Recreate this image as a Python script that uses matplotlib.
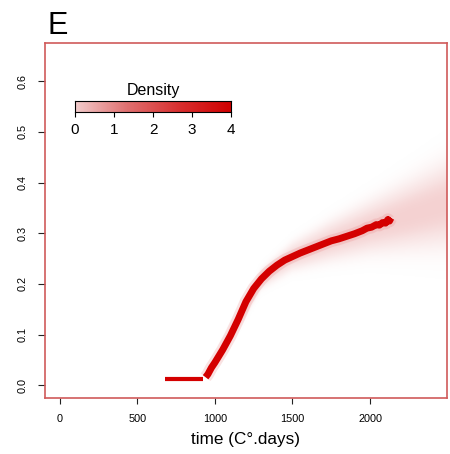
import numpy as np
import matplotlib
matplotlib.use("Agg")
import matplotlib.pyplot as plt
from matplotlib.colors import LinearSegmentedColormap

plt.rcParams['font.family'] = ['Liberation Sans', 'DejaVu Sans']

# ---- data ----
flat_x = [677, 700, 750, 800, 850, 900, 923]
flat_y = [0.0135, 0.0135, 0.0135, 0.0135, 0.0135, 0.0135, 0.0135]

curve_x = [940, 955, 978, 1000, 1050, 1100, 1150, 1200, 1250, 1300, 1350, 1400,
           1450, 1500, 1550, 1600, 1650, 1700, 1750, 1800, 1850, 1900, 1950,
           1980, 2010, 2040, 2060, 2080, 2100, 2115, 2125, 2135]
curve_y = [0.016, 0.022, 0.035, 0.045, 0.070, 0.098, 0.130, 0.165, 0.191, 0.210,
           0.225, 0.237, 0.247, 0.254, 0.261, 0.267, 0.273, 0.279, 0.285, 0.289,
           0.294, 0.299, 0.305, 0.310, 0.312, 0.317, 0.316, 0.321, 0.320, 0.327,
           0.324, 0.330]

# predictive density fan (centre, half-width, intensity)
fan_x = [1000, 1300, 1500, 1750, 2000, 2250, 2500]
fan_center = [0.045, 0.210, 0.254, 0.285, 0.312, 0.335, 0.358]
fan_halfwidth = [0.012, 0.020, 0.028, 0.040, 0.052, 0.068, 0.085]
fan_level = [0.35, 0.40, 0.42, 0.45, 0.47, 0.48, 0.48]

xticks = [0, 500, 1000, 1500, 2000]
yticks = [0.0, 0.1, 0.2, 0.3, 0.4, 0.5, 0.6]
cbar_ticks = [0, 1, 2, 3, 4]

xlim = (-95, 2495)
ylim = (-0.025, 0.675)

fig = plt.figure(figsize=(4.5, 4.54), dpi=100)
ax = fig.add_axes([0.1, 0.1233, 0.893, 0.7817])

# density field
gx = np.linspace(xlim[0], xlim[1], 700)
gy = np.linspace(ylim[0], ylim[1], 400)
cen = np.interp(gx, fan_x, fan_center)
hw = np.interp(gx, fan_x, fan_halfwidth)
lev = np.interp(gx, fan_x, fan_level)
lev[gx < fan_x[0]] = 0
z = np.abs((gy[:, None] - cen[None, :]) / hw[None, :])
field = lev[None, :] * np.exp(-1.2 * z ** 2.5)
field_cmap = LinearSegmentedColormap.from_list("fld", ["#ffffff", "#f8e2e2", "#f0bcbc", "#d40000"])
ax.imshow(field, extent=(xlim[0], xlim[1], ylim[0], ylim[1]), origin='lower',
          aspect='auto', cmap=field_cmap, vmin=0, vmax=1, interpolation='bilinear', zorder=1)

# halo + main curve
ax.plot(curve_x, curve_y, color='#e88080', lw=9, alpha=0.22, solid_capstyle='butt', zorder=2)
ax.plot(flat_x, flat_y, color='#d40000', lw=3.0, solid_capstyle='butt', zorder=3)
ax.plot(curve_x, curve_y, color='#d40000', lw=5.0, solid_capstyle='butt',
        solid_joinstyle='round', zorder=3)

ax.set_xlim(*xlim)
ax.set_ylim(*ylim)
ax.set_xticks(xticks)
ax.set_xticklabels([str(v) for v in xticks], fontsize=7.8)
ax.set_yticks(yticks)
ax.set_yticklabels([f"{v:.1f}" for v in yticks], fontsize=7.8, rotation=90, va='center')
ax.tick_params(axis='x', length=4.5, width=0.8, pad=7, color='#222222')
ax.tick_params(axis='y', length=4.8, width=0.8, pad=8, color='#222222')
for s in ax.spines.values():
    s.set_color('#d05a5a')
    s.set_linewidth(1.2)
ax.set_xlabel("time (C°.days)", fontsize=12.3, labelpad=6)

fig.text(47 / 450, 1 - 33.5 / 454, "E", fontsize=22, ha='left', va='baseline')

# colour bar legend
cb_cmap = LinearSegmentedColormap.from_list("cb", ["#f2cccc", "#e07070", "#d83030", "#d00000"])
cax = fig.add_axes([75 / 450, 1 - 112.3 / 454, 156 / 450, 11.3 / 454])
grad = np.linspace(0, 4, 256)[None, :]
cax.imshow(grad, extent=(0, 4, 0, 1), aspect='auto', cmap=cb_cmap, vmin=0, vmax=4)
cax.set_xlim(0, 4)
cax.set_yticks([])
cax.set_xticks(cbar_ticks)
cax.set_xticklabels([str(v) for v in cbar_ticks], fontsize=11)
cax.tick_params(axis='x', length=3.5, width=0.8, pad=4)
for s in cax.spines.values():
    s.set_linewidth(0.8)
cax.set_title("Density", fontsize=11.5, pad=4)

fig.savefig("out.png", dpi=100)
